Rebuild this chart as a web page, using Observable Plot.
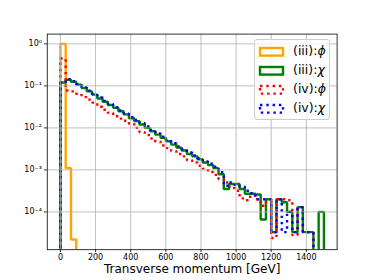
<!DOCTYPE html>
<html><head><meta charset="utf-8">
<script src="https://cdn.jsdelivr.net/npm/d3@7"></script>
<script src="https://cdn.jsdelivr.net/npm/@observablehq/plot@0.6"></script>
<style>
body{margin:0;background:#fff;}
#wrap{position:relative;width:374px;height:280px;font-family:"DejaVu Sans",sans-serif;}
.legend{position:absolute;left:254px;top:39px;width:76px;height:81px;box-sizing:border-box;border:1px solid #cccccc;border-radius:3px;background:rgba(255,255,255,0.8);}
.row{position:absolute;left:0;height:19px;width:76px;}
.row svg{position:absolute;left:3px;top:4px;}
.row span{position:absolute;left:38px;top:1px;font-size:12.5px;line-height:16px;color:#000;white-space:nowrap;}
.row i{font-style:italic;}
</style>
</head><body>
<div id="wrap"></div>
<script>
const binEdges = [0,30,60,90,120,150,180,210,240,270,300,330,360,390,420,450,480,510,540,570,600,630,660,690,720,750,780,810,840,870,900,930,960,990,1020,1050,1080,1110,1140,1170,1200,1230,1260,1290,1320,1350,1380,1410,1440,1470,1500];

const iiiPhi = [1.0,0.0011,2.2e-5,0,0,0,0,0,0,0,
 0,0,0,0,0,0,0,0,0,0,
 0,0,0,0,0,0,0,0,0,0,
 0,0,0,0,0,0,0,0,0,0,
 0,0,0,0,0,0,0,0,0,0];

const iiiChi = [0.12,0.14,0.126,0.107,0.089,0.074,0.062,0.050,0.042,0.035,
 0.030,0.025,0.021,0.017,0.0145,0.012,0.010,0.0083,0.0069,0.0058,
 0.0048,0.0040,0.0034,0.0029,0.0024,0.0021,0.0018,0.0015,0.0013,0.0011,
 0.00079,0.00035,0.00046,0.00046,0.00035,0.00027,0.00027,0.00026,6.6e-5,0.0002,
 3.3e-5,0.0002,0.00017,0.0001,3.3e-5,0.00013,3.3e-5,3.3e-5,0,0.0001];

const ivPhi = [0.45,0.078,0.074,0.065,0.054,0.047,0.040,0.032,0.027,0.023,
 0.019,0.0166,0.0148,0.0126,0.010,0.0079,0.0068,0.0056,0.0047,0.0038,
 0.0033,0.0028,0.0024,0.0021,0.0017,0.0015,0.00126,0.00107,0.00089,0.00076,
 0.0006,0.0005,0.0004,0.00032,0.00021,0.00019,0.00025,0.0002,0.00014,0.00018,
 2.4e-5,0.0002,0.0002,0.00019,2.8e-5,0.00013,3.3e-5,3.3e-5,0,0];

const ivChi = [0.12,0.145,0.13,0.11,0.092,0.077,0.064,0.053,0.044,0.037,
 0.031,0.026,0.022,0.018,0.0155,0.013,0.0108,0.0089,0.0074,0.0062,
 0.0052,0.0043,0.0036,0.0031,0.0026,0.0022,0.0019,0.0016,0.0014,0.0012,
 0.00088,0.00042,0.0005,0.00044,0.0004,0.00032,0.00028,0.0002,0.0002,0.0002,
 3.3e-5,0.0002,3.3e-5,0.0001,3.3e-5,0.00013,3.3e-5,3.3e-5,0,0];

const seriesNames = ["(iii):ϕ","(iii):χ","(iv):ϕ","(iv):χ"];
const seriesColors = ["orange","green","red","blue"];
const seriesDash = [null,null,"2.4,3.9","2.4,3.9"];
const xTicks = [0,200,400,600,800,1000,1200,1400];
const yTicks = [1,0.1,0.01,0.001,0.0001];
const xLabel = "Transverse momentum [GeV]";

const FLOOR = 1e-8;
function stepPoints(vals){
  const pts = [{x: binEdges[0], y: FLOOR}];
  vals.forEach((v,i) => pts.push({x: binEdges[i], y: v > 0 ? v : FLOOR}));
  const last = vals[vals.length-1];
  pts.push({x: binEdges[binEdges.length-1], y: last > 0 ? last : FLOOR});
  pts.push({x: binEdges[binEdges.length-1], y: FLOOR});
  return pts;
}
const allSeries = [iiiPhi, iiiChi, ivPhi, ivChi];
const sup = {"-":"⁻","0":"⁰","1":"¹","2":"²","3":"³","4":"⁴","5":"⁵"};
const fmtY = d => "10" + String(Math.round(Math.log10(d))).split("").map(c => sup[c]).join("");

const lineMarks = allSeries.map((vals,k) => Plot.line(stepPoints(vals), {
  x:"x", y:"y", curve:"step-after", stroke: seriesColors[k], strokeWidth: 2.4,
  strokeDasharray: seriesDash[k] || undefined, strokeLinejoin:"miter", strokeLinecap:"butt", clip:true
}));

const chart = Plot.plot({
  width:374, height:280,
  marginLeft:46.75, marginRight:37.4, marginTop:33.6, marginBottom:30.8,
  style:{fontFamily:"DejaVu Sans, sans-serif", fontSize:"8px", color:"black", background:"white", overflow:"visible"},
  x:{domain:[-75,1575]},
  y:{type:"log", domain:[1.26e-5,1.71]},
  marks:[
    ...lineMarks,
    Plot.gridX(xTicks, {stroke:"#b0b0b0", strokeOpacity:1, strokeWidth:0.8}),
    Plot.gridY(yTicks, {stroke:"#b0b0b0", strokeOpacity:1, strokeWidth:0.8}),
    Plot.frame({stroke:"black", strokeWidth:0.8}),
    Plot.axisX(xTicks, {tickSize:2.8, tickPadding:2.2, fontSize:8, label:null, tickFormat:d => String(d), strokeWidth:0.8}),
    Plot.axisY(yTicks, {tickSize:2.8, tickPadding:2.5, fontSize:8, label:null, tickFormat:fmtY, strokeWidth:0.8}),
    Plot.text([xLabel], {text:d => d, frameAnchor:"bottom", dy:23, fontSize:12, fill:"black"})
  ]
});
const wrap = document.getElementById("wrap");
wrap.appendChild(chart);

// legend
const leg = document.createElement("div");
leg.className = "legend";
seriesNames.forEach((name,k) => {
  const row = document.createElement("div");
  row.className = "row";
  row.style.top = (2 + 19*k) + "px";
  const svgNS = "http://www.w3.org/2000/svg";
  const s = document.createElementNS(svgNS,"svg");
  s.setAttribute("width","28"); s.setAttribute("height","12");
  const r = document.createElementNS(svgNS,"rect");
  r.setAttribute("x","2"); r.setAttribute("y","2"); r.setAttribute("width","23"); r.setAttribute("height","7.6");
  r.setAttribute("fill","none"); r.setAttribute("stroke", seriesColors[k]); r.setAttribute("stroke-width","2.4");
  if (seriesDash[k]) r.setAttribute("stroke-dasharray", seriesDash[k]);
  s.appendChild(r);
  row.appendChild(s);
  const sp = document.createElement("span");
  const idx = name.indexOf(":");
  sp.appendChild(document.createTextNode(name.slice(0, idx+1)));
  const it = document.createElement("i");
  it.textContent = name.slice(idx+1);
  sp.appendChild(it);
  row.appendChild(sp);
  leg.appendChild(row);
});
wrap.appendChild(leg);
</script>
</body></html>
